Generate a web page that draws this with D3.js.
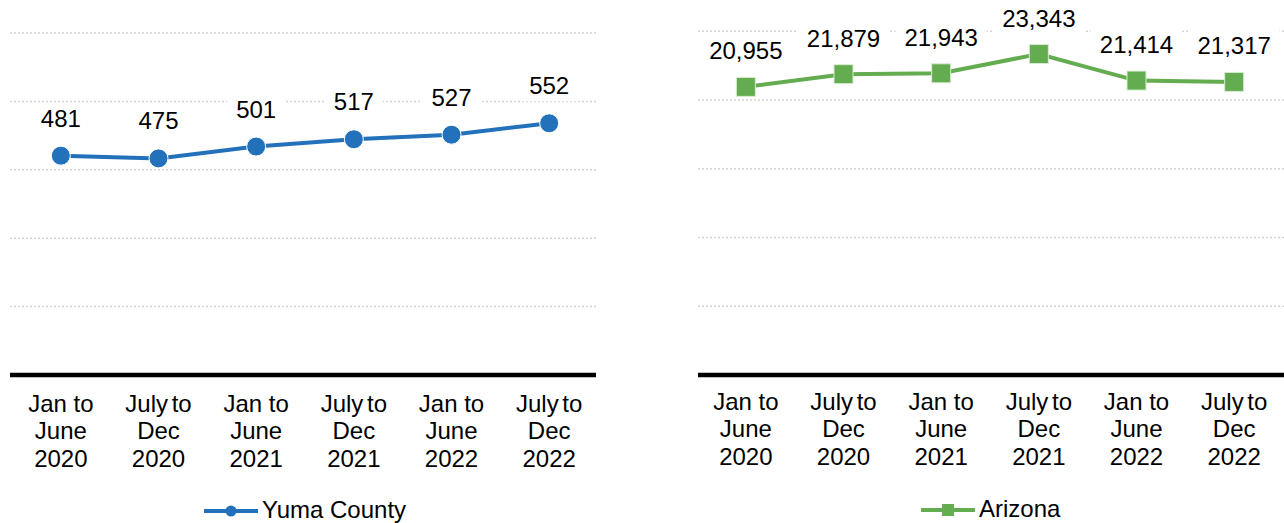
<!DOCTYPE html>
<html><head><meta charset="utf-8">
<script src="https://cdn.jsdelivr.net/npm/d3@7"></script>
<style>body{margin:0;background:#fff}svg{display:block}text{font-family:"Liberation Sans",Arial,sans-serif;fill:#000}</style>
</head><body>
<svg id="c" width="1284" height="523"></svg>
<script>
const categories = [["Jan to","June","2020"],["July to","Dec","2020"],["Jan to","June","2021"],["July to","Dec","2021"],["Jan to","June","2022"],["July to","Dec","2022"]];
const yumaValues = [481, 475, 501, 517, 527, 552];
const arizonaValues = [20955, 21879, 21943, 23343, 21414, 21317];
const yumaTicks = [150, 300, 450, 600, 750];
const arizonaTicks = [5000, 10000, 15000, 20000, 25000];

const svg = d3.select("#c");
const fmt = d3.format(",");
const FS = 24;

function panel(cfg){
  const g = svg.append("g");
  const ids = categories.map((d,i)=>i);
  const x = d3.scalePoint().domain(ids).range([cfg.x0, cfg.x1]).padding(0.5);
  const y = d3.scaleLinear().domain([0, cfg.max]).range([375, cfg.top]);
  g.selectAll("line.grid").data(cfg.ticks).join("line")
    .attr("x1", cfg.gx0).attr("x2", cfg.gx1)
    .attr("y1", d=>y(d)).attr("y2", d=>y(d))
    .attr("stroke", "#d4d4d4").attr("stroke-width", 1.5).attr("stroke-dasharray", "2,2");
  g.append("line").attr("x1", cfg.gx0).attr("x2", cfg.gx1).attr("y1", y(0)).attr("y2", y(0))
    .attr("stroke", "#000").attr("stroke-width", 4.5);
  categories.forEach((lines,i)=>{
    lines.forEach((t,j)=>{
      g.append("text").attr("x", x(i)).attr("y", cfg.labBase + j*27.3)
        .attr("text-anchor","middle").attr("font-size", FS)
        .attr("word-spacing", t.startsWith("July") ? -3 : 0).text(t);
    });
  });
  g.append("path").datum(cfg.values)
    .attr("d", d3.line().x((d,i)=>x(i)).y(d=>y(d)))
    .attr("fill","none").attr("stroke", cfg.color).attr("stroke-width", 4);
  if (cfg.marker === "circle") {
    g.selectAll("circle.m").data(cfg.values).join("circle")
      .attr("cx",(d,i)=>x(i)).attr("cy",d=>y(d)).attr("r",9.5)
      .attr("fill", cfg.color).attr("stroke","#fff").attr("stroke-width",1);
  } else {
    g.selectAll("rect.m").data(cfg.values).join("rect")
      .attr("x",(d,i)=>x(i)-9.5).attr("y",d=>y(d)-9.5).attr("width",19).attr("height",19)
      .attr("fill", cfg.color).attr("stroke","#d9ecd2").attr("stroke-width",1);
  }
  cfg.values.forEach((v,i)=>{
    const t = g.append("text").attr("x", x(i)).attr("y", y(v)-cfg.labOff)
      .attr("text-anchor","middle").attr("font-size", FS).text(fmt(v));
    const bb = t.node().getBBox();
    g.insert("rect", function(){return t.node();})
      .attr("x", bb.x-9).attr("y", bb.y-2).attr("width", bb.width+18).attr("height", bb.height+4)
      .attr("fill","#fff");
  });
  const lg = g.append("g");
  lg.append("line").attr("x1", cfg.legX).attr("x2", cfg.legX+54).attr("y1", cfg.legY).attr("y2", cfg.legY)
    .attr("stroke", cfg.color).attr("stroke-width", 4);
  if (cfg.marker === "circle") {
    lg.append("circle").attr("cx", cfg.legX+27).attr("cy", cfg.legY).attr("r", 5.5).attr("fill", cfg.color);
  } else {
    lg.append("rect").attr("x", cfg.legX+21).attr("y", cfg.legY-6).attr("width",12).attr("height",12).attr("fill", cfg.color);
  }
  lg.append("text").attr("x", cfg.legX+58).attr("y", cfg.legY+7).attr("font-size", FS).text(cfg.name);
}

panel({x0:12, x1:598, gx0:10, gx1:596, top:33, max:750, ticks:yumaTicks, values:yumaValues,
  color:"#2271BA", marker:"circle", labBase:412, labOff:29, legX:204, legY:511, name:"Yuma County"});
panel({x0:697, x1:1283, gx0:698, gx1:1284, top:31.25, max:25000, ticks:arizonaTicks, values:arizonaValues,
  color:"#63AC50", marker:"square", labBase:410, labOff:27.5, legX:921, legY:510, name:"Arizona"});
</script>
</body></html>
